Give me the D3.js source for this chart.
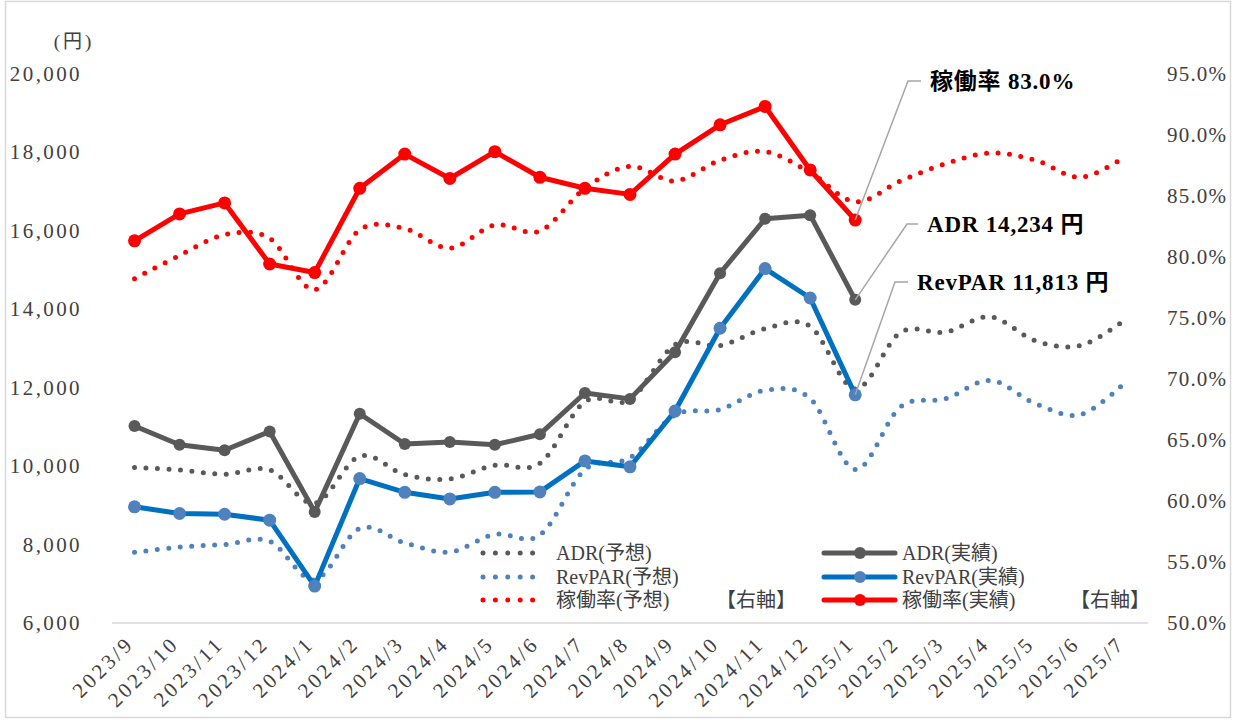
<!DOCTYPE html>
<html>
<head>
<meta charset="utf-8">
<script src="https://cdn.jsdelivr.net/npm/d3@7"></script>
<style>
  html, body { margin: 0; padding: 0; background: #fff; }
  svg { display: block; }
</style>
</head>
<body>
<svg id="chart" width="1237" height="720"></svg>
<script>
const categories = ["2023/9","2023/10","2023/11","2023/12","2024/1","2024/2","2024/3","2024/4","2024/5","2024/6","2024/7","2024/8","2024/9","2024/10","2024/11","2024/12","2025/1","2025/2","2025/3","2025/4","2025/5","2025/6","2025/7"];

// 実績 (actual) – through 2025/1
const adrActual    = [11020, 10540, 10400, 10880, 8830, 11330, 10560, 10610, 10540, 10810, 11860, 11710, 12900, 14910, 16300, 16390, 14234];
const revparActual = [8960, 8790, 8770, 8620, 6940, 9680, 9330, 9160, 9330, 9340, 10130, 9980, 11400, 13510, 15030, 14280, 11813];
const occActual    = [81.3, 83.5, 84.4, 79.4, 78.7, 85.6, 88.4, 86.4, 88.6, 86.5, 85.6, 85.1, 88.4, 90.8, 92.3, 87.1, 83.0];

// 予想 (forecast)
const adrForecast    = [9960, 9900, 9790, 9900, 9050, 10250, 9780, 9670, 10020, 10070, 11640, 11690, 13090, 13070, 13500, 13560, 11960, 13400, 13410, 13800, 13190, 13070, 13730];
const revparForecast = [7800, 7935, 8000, 8080, 7100, 8410, 8040, 7810, 8260, 8240, 9910, 10210, 11300, 11440, 11930, 11720, 9910, 11500, 11710, 12180, 11590, 11310, 12140];
const occForecast    = [78.2, 80.1, 81.8, 81.5, 77.3, 82.2, 82.3, 80.7, 82.6, 82.1, 85.6, 87.4, 86.2, 87.9, 88.6, 86.9, 84.5, 86.2, 87.6, 88.5, 87.9, 86.5, 88.2];

const leftTicks  = [6000, 8000, 10000, 12000, 14000, 16000, 18000, 20000];
const rightTicks = [50, 55, 60, 65, 70, 75, 80, 85, 90, 95];

const leftUnit = "(円)";
const annotations = [
  { text: "稼働率 83.0%",     idx: 16, axis: "right", series: occActual },
  { text: "ADR 14,234 円",    idx: 16, axis: "left",  series: adrActual },
  { text: "RevPAR 11,813 円", idx: 16, axis: "left",  series: revparActual }
];
const legendLeft  = ["ADR(予想)", "RevPAR(予想)", "稼働率(予想)"];
const legendRight = ["ADR(実績)", "RevPAR(実績)", "稼働率(実績)"];
const rightAxisNote = "【右軸】";

const svg = d3.select("#chart");
const plot = { left: 112, right: 1148, top: 73.5, bottom: 623 };

const COL = {
  adr: "#595959",
  revLine: "#0070c0", revMarker: "#4f81bd", revDot: "#4f81bd",
  occ: "#ff0000",
  axisText: "#404040",
  leader: "#a6a6a6",
  frame: "#d9d9d9"
};
const SERIF = '"Liberation Serif", "Noto Sans CJK JP", serif';

// frame
svg.append("rect").attr("x", 5.5).attr("y", 1.5).attr("width", 1225).attr("height", 716)
  .attr("fill", "#fff").attr("stroke", COL.frame).attr("stroke-width", 1.5);

const x = d3.scalePoint().domain(categories).range([plot.left, plot.right]).padding(0.5);
const yL = d3.scaleLinear().domain([6000, 20000]).range([plot.bottom, plot.top]);
const yR = d3.scaleLinear().domain([50, 95]).range([plot.bottom, plot.top]);

// bottom axis line
svg.append("line").attr("x1", plot.left).attr("x2", plot.right)
  .attr("y1", plot.bottom).attr("y2", plot.bottom)
  .attr("stroke", COL.frame).attr("stroke-width", 1.5);

// left axis
const gL = svg.append("g").attr("transform", "translate(82,0)")
  .call(d3.axisLeft(yL).tickValues(leftTicks).tickFormat(d3.format(",")).tickSize(0).tickPadding(0));
gL.select(".domain").remove();
gL.selectAll("text").attr("font-size", 21).attr("fill", COL.axisText)
  .attr("letter-spacing", 2.4).style("font-family", SERIF);

// right axis
const gR = svg.append("g").attr("transform", "translate(1167,0)")
  .call(d3.axisRight(yR).tickValues(rightTicks).tickFormat(d => d3.format(".1f")(d) + "%").tickSize(0).tickPadding(0));
gR.select(".domain").remove();
gR.selectAll("text").attr("font-size", 21).attr("fill", COL.axisText)
  .attr("letter-spacing", 1.2).style("font-family", SERIF);

// x axis labels
const gX = svg.append("g").attr("transform", `translate(0,${plot.bottom})`)
  .call(d3.axisBottom(x).tickSize(0).tickPadding(0));
gX.select(".domain").remove();
gX.selectAll("text")
  .attr("x", 0).attr("y", 0).attr("dy", 0)
  .attr("text-anchor", "end")
  .attr("transform", "translate(0,22) rotate(-45)")
  .attr("font-size", 21).attr("fill", COL.axisText)
  .attr("letter-spacing", 3)
  .style("font-family", SERIF);

// unit label
svg.append("text").attr("x", 74).attr("y", 41).attr("text-anchor", "middle")
  .attr("dominant-baseline", "central").attr("font-size", 19).attr("fill", COL.axisText)
  .attr("letter-spacing", 3).style("font-family", SERIF)
  .text(leftUnit);

// line generators
const smooth = d3.curveCatmullRom.alpha(0);
function dotted(data, yScale, color) {
  const line = d3.line().x((d, i) => x(categories[i])).y(d => yScale(d)).curve(smooth);
  svg.append("path").datum(data).attr("d", line).attr("fill", "none")
    .attr("stroke", color).attr("stroke-width", 5).attr("stroke-linecap", "round")
    .attr("stroke-dasharray", "0 11.5");
}
function solid(data, yScale, lineColor, markerColor, r) {
  const line = d3.line().x((d, i) => x(categories[i])).y(d => yScale(d));
  svg.append("path").datum(data).attr("d", line).attr("fill", "none")
    .attr("stroke", lineColor).attr("stroke-width", 5).attr("stroke-linejoin", "round");
  svg.append("g").selectAll("circle").data(data).join("circle")
    .attr("cx", (d, i) => x(categories[i])).attr("cy", d => yScale(d))
    .attr("r", r).attr("fill", markerColor);
}

dotted(adrForecast, yL, COL.adr);
dotted(revparForecast, yL, COL.revDot);
dotted(occForecast, yR, COL.occ);
solid(adrActual, yL, COL.adr, COL.adr, 6);
solid(revparActual, yL, COL.revLine, COL.revMarker, 6.5);
solid(occActual, yR, COL.occ, COL.occ, 6.5);

// annotations with leader lines
const annLayout = [
  { tx: 930, ty: 81,  elbowX: 908, endX: 921 },
  { tx: 927, ty: 224, elbowX: 907, endX: 918 },
  { tx: 917, ty: 282, elbowX: 895, endX: 908 }
];
annotations.forEach((a, k) => {
  const L = annLayout[k];
  const ys = a.axis === "right" ? yR : yL;
  const px = x(categories[a.idx]), py = ys(a.series[a.idx]);
  svg.append("polyline")
    .attr("points", `${px},${py} ${L.elbowX},${L.ty} ${L.endX},${L.ty}`)
    .attr("fill", "none").attr("stroke", COL.leader).attr("stroke-width", 1.5);
  svg.append("text").attr("x", L.tx).attr("y", L.ty).attr("dominant-baseline", "central")
    .attr("font-size", 23).attr("font-weight", "bold").attr("fill", "#000")
    .attr("letter-spacing", 0.8).style("font-family", SERIF)
    .text(a.text);
});

// legend
const legRows = [553, 577, 600];
const legColors = [
  { dot: COL.adr, line: COL.adr, marker: COL.adr },
  { dot: COL.revDot, line: COL.revLine, marker: COL.revMarker },
  { dot: COL.occ, line: COL.occ, marker: COL.occ }
];
legRows.forEach((ly, i) => {
  svg.append("line").attr("x1", 483).attr("x2", 543).attr("y1", ly).attr("y2", ly)
    .attr("stroke", legColors[i].dot).attr("stroke-width", 5).attr("stroke-linecap", "round")
    .attr("stroke-dasharray", "0 12.4");
  svg.append("text").attr("x", 556).attr("y", ly).attr("dominant-baseline", "central")
    .attr("font-size", 20).attr("fill", COL.axisText).style("font-family", SERIF)
    .text(legendLeft[i]);
  svg.append("line").attr("x1", 824).attr("x2", 895).attr("y1", ly).attr("y2", ly)
    .attr("stroke", legColors[i].line).attr("stroke-width", 5).attr("stroke-linecap", "round");
  svg.append("circle").attr("cx", 860).attr("cy", ly).attr("r", 6).attr("fill", legColors[i].marker);
  svg.append("text").attr("x", 902).attr("y", ly).attr("dominant-baseline", "central")
    .attr("font-size", 20).attr("fill", COL.axisText).style("font-family", SERIF)
    .text(legendRight[i]);
});
[716, 1070].forEach(nx => {
  svg.append("text").attr("x", nx).attr("y", legRows[2]).attr("dominant-baseline", "central")
    .attr("font-size", 20).attr("fill", COL.axisText).style("font-family", SERIF)
    .text(rightAxisNote);
});
</script>
</body>
</html>
